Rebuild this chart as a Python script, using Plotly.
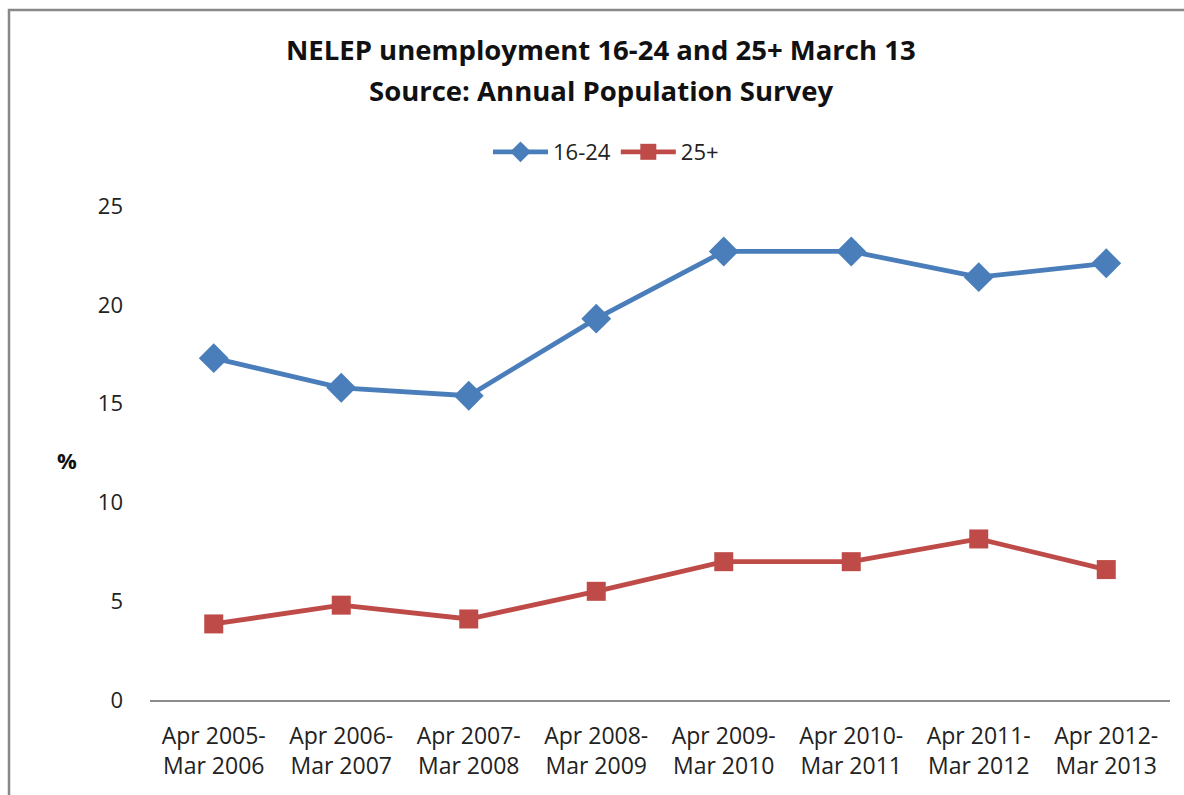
import plotly.graph_objects as go

# Survey periods (two-line category labels)
periods = [
    "Apr 2005-<br>Mar 2006",
    "Apr 2006-<br>Mar 2007",
    "Apr 2007-<br>Mar 2008",
    "Apr 2008-<br>Mar 2009",
    "Apr 2009-<br>Mar 2010",
    "Apr 2010-<br>Mar 2011",
    "Apr 2011-<br>Mar 2012",
    "Apr 2012-<br>Mar 2013",
]

# Unemployment rates, %
rate_16_24 = [17.3, 15.8, 15.4, 19.3, 22.7, 22.7, 21.4, 22.1]
rate_25_plus = [3.85, 4.8, 4.1, 5.5, 7.0, 7.0, 8.15, 6.6]

y_ticks = [0, 5, 10, 15, 20, 25]

BLUE = "#4a7ebb"
RED = "#be4b48"
FONT = "Open Sans"

W, H = 1184, 795
PL, PR, PT, PB = 150, 1170, 206, 700   # plot area edges, px


def px_x(x):
    return (x - PL) / (PR - PL)


def px_y(y):
    return (PB - y) / (PB - PT)


fig = go.Figure()
fig.add_trace(go.Scatter(
    x=periods, y=rate_16_24, name="16-24", mode="lines+markers",
    line=dict(color=BLUE, width=4.8),
    marker=dict(symbol="diamond", size=23, color=BLUE),
))
fig.add_trace(go.Scatter(
    x=periods, y=rate_25_plus, name="25+", mode="lines+markers",
    line=dict(color=RED, width=4.8),
    marker=dict(symbol="square", size=19, color=RED),
))

fig.update_layout(
    width=W, height=H,
    margin=dict(l=PL, r=W - PR, t=PT, b=H - PB),
    paper_bgcolor="white", plot_bgcolor="white",
    font=dict(family=FONT, size=22, color="#222"),
    showlegend=True,
    legend=dict(
        orientation="h", xref="container", yref="container",
        x=606 / W, y=1 - 152 / H, xanchor="center", yanchor="middle",
        font=dict(size=22, color="#222"), itemwidth=55,
        bgcolor="rgba(0,0,0,0)",
    ),
    xaxis=dict(
        type="category", range=[-0.5, 7.5],
        showline=True, linecolor="#8c8c8c", linewidth=1.5,
        showgrid=False, zeroline=False, ticks="",
        ticklabelstandoff=15,
        tickfont=dict(size=23, color="#222"),
    ),
    yaxis=dict(
        range=[0, 25], tickvals=y_ticks,
        showline=False, showgrid=False, zeroline=False, ticks="",
        ticklabelstandoff=26,
        tickfont=dict(size=22, color="#222"),
    ),
    annotations=[
        dict(text="<b>NELEP unemployment 16-24 and 25+ March 13</b>",
             xref="paper", yref="paper", x=px_x(601), y=px_y(50),
             xanchor="center", yanchor="middle", showarrow=False,
             font=dict(size=27.5, family=FONT, color="#111")),
        dict(text="<b>Source: Annual Population Survey</b>",
             xref="paper", yref="paper", x=px_x(601), y=px_y(90),
             xanchor="center", yanchor="middle", showarrow=False,
             font=dict(size=27.5, family=FONT, color="#111")),
        dict(text="<b>%</b>", xref="paper", yref="paper",
             x=px_x(67), y=px_y(460),
             xanchor="center", yanchor="middle", showarrow=False,
             font=dict(size=22, family=FONT, color="#111")),
    ],
    shapes=[
        dict(type="rect", xref="paper", yref="paper",
             x0=px_x(9), x1=1.2, y0=-0.5, y1=px_y(10),
             line=dict(color="#888888", width=2.5), fillcolor="rgba(0,0,0,0)",
             layer="below"),
    ],
)

fig.write_html("out.html")
